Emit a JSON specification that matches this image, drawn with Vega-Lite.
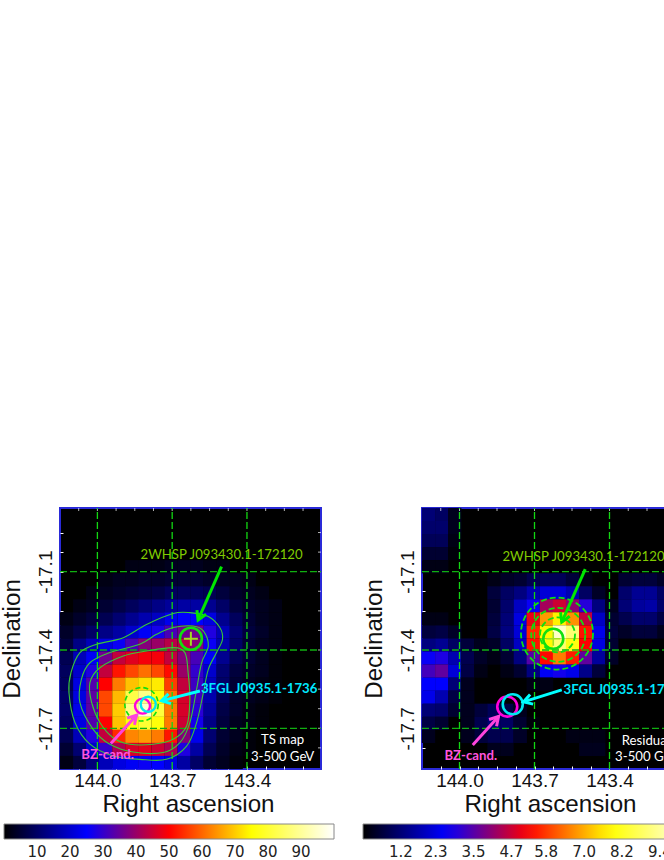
{"$schema":"https://vega.github.io/schema/vega-lite/v6.json","padding":{"left":-1,"top":506,"right":0,"bottom":0},"background":"white","bounds":"flush","spacing":101,
"config":{"view":{"stroke":"#2a2ad8","strokeWidth":2,"fill":"#000000"},"axis":{"grid":false,"domain":false,"tickColor":"#ffffff","tickSize":-3,"labelFont":"Liberation Sans","labelFontSize":19,"labelColor":"#111111","titleFont":"Liberation Sans","titleFontSize":24.2,"titleFontWeight":"normal","titleColor":"#111111"},"legend":{"labelFont":"DejaVu Sans","labelFontSize":15,"labelColor":"#222222","gradientStrokeColor":"#888888","gradientStrokeWidth":1}},
"resolve":{"scale":{"fill":"independent","stroke":"independent"}},
"datasets":{
"ts":[
{"ra":143.862,"dec":-17.081,"v":2},{"ra":143.81,"dec":-17.081,"v":2},{"ra":143.757,"dec":-17.081,"v":2},{"ra":143.705,"dec":-17.081,"v":3},{"ra":143.652,"dec":-17.081,"v":3},{"ra":143.6,"dec":-17.081,"v":3},{"ra":143.548,"dec":-17.081,"v":2},{"ra":143.495,"dec":-17.081,"v":2},
{"ra":143.967,"dec":-17.131,"v":2},{"ra":143.914,"dec":-17.131,"v":3},{"ra":143.862,"dec":-17.131,"v":3},{"ra":143.81,"dec":-17.131,"v":4},{"ra":143.757,"dec":-17.131,"v":4},{"ra":143.705,"dec":-17.131,"v":5},{"ra":143.652,"dec":-17.131,"v":5},{"ra":143.6,"dec":-17.131,"v":5},{"ra":143.548,"dec":-17.131,"v":4},{"ra":143.495,"dec":-17.131,"v":3},{"ra":143.443,"dec":-17.131,"v":3},{"ra":143.391,"dec":-17.131,"v":2},
{"ra":144.019,"dec":-17.181,"v":2},{"ra":143.967,"dec":-17.181,"v":3},{"ra":143.914,"dec":-17.181,"v":4},{"ra":143.862,"dec":-17.181,"v":5},{"ra":143.81,"dec":-17.181,"v":6},{"ra":143.757,"dec":-17.181,"v":7},{"ra":143.705,"dec":-17.181,"v":9},{"ra":143.652,"dec":-17.181,"v":9},{"ra":143.6,"dec":-17.181,"v":9},{"ra":143.548,"dec":-17.181,"v":8},{"ra":143.495,"dec":-17.181,"v":6},{"ra":143.443,"dec":-17.181,"v":4},{"ra":143.391,"dec":-17.181,"v":3},{"ra":143.338,"dec":-17.181,"v":2},
{"ra":144.071,"dec":-17.231,"v":2},{"ra":144.019,"dec":-17.231,"v":3},{"ra":143.967,"dec":-17.231,"v":5},{"ra":143.914,"dec":-17.231,"v":7},{"ra":143.862,"dec":-17.231,"v":9},{"ra":143.81,"dec":-17.231,"v":11},{"ra":143.757,"dec":-17.231,"v":13},{"ra":143.705,"dec":-17.231,"v":15},{"ra":143.652,"dec":-17.231,"v":16},{"ra":143.6,"dec":-17.231,"v":16},{"ra":143.548,"dec":-17.231,"v":14},{"ra":143.495,"dec":-17.231,"v":10},{"ra":143.443,"dec":-17.231,"v":6},{"ra":143.391,"dec":-17.231,"v":4},{"ra":143.338,"dec":-17.231,"v":3},{"ra":143.286,"dec":-17.231,"v":2},
{"ra":144.124,"dec":-17.281,"v":2},{"ra":144.071,"dec":-17.281,"v":4},{"ra":144.019,"dec":-17.281,"v":6},{"ra":143.967,"dec":-17.281,"v":8},{"ra":143.914,"dec":-17.281,"v":11},{"ra":143.862,"dec":-17.281,"v":14},{"ra":143.81,"dec":-17.281,"v":17},{"ra":143.757,"dec":-17.281,"v":19},{"ra":143.705,"dec":-17.281,"v":23},{"ra":143.652,"dec":-17.281,"v":25},{"ra":143.6,"dec":-17.281,"v":25},{"ra":143.548,"dec":-17.281,"v":22},{"ra":143.495,"dec":-17.281,"v":14},{"ra":143.443,"dec":-17.281,"v":9},{"ra":143.391,"dec":-17.281,"v":5},{"ra":143.338,"dec":-17.281,"v":3},{"ra":143.286,"dec":-17.281,"v":2},
{"ra":144.124,"dec":-17.331,"v":4},{"ra":144.071,"dec":-17.331,"v":7},{"ra":144.019,"dec":-17.331,"v":10},{"ra":143.967,"dec":-17.331,"v":13},{"ra":143.914,"dec":-17.331,"v":16},{"ra":143.862,"dec":-17.331,"v":20},{"ra":143.81,"dec":-17.331,"v":24},{"ra":143.757,"dec":-17.331,"v":27},{"ra":143.705,"dec":-17.331,"v":32},{"ra":143.652,"dec":-17.331,"v":36},{"ra":143.6,"dec":-17.331,"v":36},{"ra":143.548,"dec":-17.331,"v":28},{"ra":143.495,"dec":-17.331,"v":18},{"ra":143.443,"dec":-17.331,"v":11},{"ra":143.391,"dec":-17.331,"v":6},{"ra":143.338,"dec":-17.331,"v":4},{"ra":143.286,"dec":-17.331,"v":2},
{"ra":144.124,"dec":-17.381,"v":6},{"ra":144.071,"dec":-17.381,"v":13},{"ra":144.019,"dec":-17.381,"v":18},{"ra":143.967,"dec":-17.381,"v":22},{"ra":143.914,"dec":-17.381,"v":26},{"ra":143.862,"dec":-17.381,"v":32},{"ra":143.81,"dec":-17.381,"v":38},{"ra":143.757,"dec":-17.381,"v":40},{"ra":143.705,"dec":-17.381,"v":43},{"ra":143.652,"dec":-17.381,"v":43},{"ra":143.6,"dec":-17.381,"v":38},{"ra":143.548,"dec":-17.381,"v":26},{"ra":143.495,"dec":-17.381,"v":17},{"ra":143.443,"dec":-17.381,"v":10},{"ra":143.391,"dec":-17.381,"v":5},{"ra":143.338,"dec":-17.381,"v":3},{"ra":143.286,"dec":-17.381,"v":2},
{"ra":144.124,"dec":-17.431,"v":8},{"ra":144.071,"dec":-17.431,"v":18},{"ra":144.019,"dec":-17.431,"v":24},{"ra":143.967,"dec":-17.431,"v":36},{"ra":143.914,"dec":-17.431,"v":44},{"ra":143.862,"dec":-17.431,"v":47},{"ra":143.81,"dec":-17.431,"v":49},{"ra":143.757,"dec":-17.431,"v":49},{"ra":143.705,"dec":-17.431,"v":44},{"ra":143.652,"dec":-17.431,"v":38},{"ra":143.6,"dec":-17.431,"v":32},{"ra":143.548,"dec":-17.431,"v":24},{"ra":143.495,"dec":-17.431,"v":14},{"ra":143.443,"dec":-17.431,"v":8},{"ra":143.391,"dec":-17.431,"v":5},{"ra":143.338,"dec":-17.431,"v":3},{"ra":143.286,"dec":-17.431,"v":1},
{"ra":144.124,"dec":-17.481,"v":9},{"ra":144.071,"dec":-17.481,"v":20},{"ra":144.019,"dec":-17.481,"v":28},{"ra":143.967,"dec":-17.481,"v":44},{"ra":143.914,"dec":-17.481,"v":52},{"ra":143.862,"dec":-17.481,"v":57},{"ra":143.81,"dec":-17.481,"v":61},{"ra":143.757,"dec":-17.481,"v":57},{"ra":143.705,"dec":-17.481,"v":51},{"ra":143.652,"dec":-17.481,"v":40},{"ra":143.6,"dec":-17.481,"v":30},{"ra":143.548,"dec":-17.481,"v":20},{"ra":143.495,"dec":-17.481,"v":11},{"ra":143.443,"dec":-17.481,"v":6},{"ra":143.391,"dec":-17.481,"v":4},{"ra":143.338,"dec":-17.481,"v":3},{"ra":143.286,"dec":-17.481,"v":1},
{"ra":144.124,"dec":-17.531,"v":9},{"ra":144.071,"dec":-17.531,"v":22},{"ra":144.019,"dec":-17.531,"v":33},{"ra":143.967,"dec":-17.531,"v":50},{"ra":143.914,"dec":-17.531,"v":62},{"ra":143.862,"dec":-17.531,"v":69},{"ra":143.81,"dec":-17.531,"v":72},{"ra":143.757,"dec":-17.531,"v":73},{"ra":143.705,"dec":-17.531,"v":56},{"ra":143.652,"dec":-17.531,"v":44},{"ra":143.6,"dec":-17.531,"v":31},{"ra":143.548,"dec":-17.531,"v":18},{"ra":143.495,"dec":-17.531,"v":10},{"ra":143.443,"dec":-17.531,"v":5},{"ra":143.391,"dec":-17.531,"v":3},{"ra":143.338,"dec":-17.531,"v":2},{"ra":143.286,"dec":-17.531,"v":1},
{"ra":144.124,"dec":-17.581,"v":10},{"ra":144.071,"dec":-17.581,"v":22},{"ra":144.019,"dec":-17.581,"v":34},{"ra":143.967,"dec":-17.581,"v":57},{"ra":143.914,"dec":-17.581,"v":68},{"ra":143.862,"dec":-17.581,"v":82},{"ra":143.81,"dec":-17.581,"v":88},{"ra":143.757,"dec":-17.581,"v":76},{"ra":143.705,"dec":-17.581,"v":61},{"ra":143.652,"dec":-17.581,"v":46},{"ra":143.6,"dec":-17.581,"v":31},{"ra":143.548,"dec":-17.581,"v":17},{"ra":143.495,"dec":-17.581,"v":8},{"ra":143.443,"dec":-17.581,"v":4},{"ra":143.391,"dec":-17.581,"v":3},{"ra":143.338,"dec":-17.581,"v":2},{"ra":143.286,"dec":-17.581,"v":1},
{"ra":144.124,"dec":-17.631,"v":10},{"ra":144.071,"dec":-17.631,"v":23},{"ra":144.019,"dec":-17.631,"v":34},{"ra":143.967,"dec":-17.631,"v":57},{"ra":143.914,"dec":-17.631,"v":70},{"ra":143.862,"dec":-17.631,"v":88},{"ra":143.81,"dec":-17.631,"v":95},{"ra":143.757,"dec":-17.631,"v":81},{"ra":143.705,"dec":-17.631,"v":62},{"ra":143.652,"dec":-17.631,"v":46},{"ra":143.6,"dec":-17.631,"v":29},{"ra":143.548,"dec":-17.631,"v":15},{"ra":143.495,"dec":-17.631,"v":7},{"ra":143.443,"dec":-17.631,"v":4},{"ra":143.391,"dec":-17.631,"v":2},{"ra":143.338,"dec":-17.631,"v":1},
{"ra":144.124,"dec":-17.681,"v":9},{"ra":144.071,"dec":-17.681,"v":22},{"ra":144.019,"dec":-17.681,"v":33},{"ra":143.967,"dec":-17.681,"v":50},{"ra":143.914,"dec":-17.681,"v":69},{"ra":143.862,"dec":-17.681,"v":76},{"ra":143.81,"dec":-17.681,"v":80},{"ra":143.757,"dec":-17.681,"v":76},{"ra":143.705,"dec":-17.681,"v":62},{"ra":143.652,"dec":-17.681,"v":45},{"ra":143.6,"dec":-17.681,"v":27},{"ra":143.548,"dec":-17.681,"v":13},{"ra":143.495,"dec":-17.681,"v":6},{"ra":143.443,"dec":-17.681,"v":3},{"ra":143.391,"dec":-17.681,"v":2},{"ra":143.338,"dec":-17.681,"v":1},
{"ra":144.124,"dec":-17.731,"v":8},{"ra":144.071,"dec":-17.731,"v":18},{"ra":144.019,"dec":-17.731,"v":28},{"ra":143.967,"dec":-17.731,"v":44},{"ra":143.914,"dec":-17.731,"v":54},{"ra":143.862,"dec":-17.731,"v":63},{"ra":143.81,"dec":-17.731,"v":65},{"ra":143.757,"dec":-17.731,"v":62},{"ra":143.705,"dec":-17.731,"v":52},{"ra":143.652,"dec":-17.731,"v":38},{"ra":143.6,"dec":-17.731,"v":23},{"ra":143.548,"dec":-17.731,"v":11},{"ra":143.495,"dec":-17.731,"v":5},{"ra":143.443,"dec":-17.731,"v":3},{"ra":143.391,"dec":-17.731,"v":1},
{"ra":144.124,"dec":-17.781,"v":5},{"ra":144.071,"dec":-17.781,"v":11},{"ra":144.019,"dec":-17.781,"v":20},{"ra":143.967,"dec":-17.781,"v":30},{"ra":143.914,"dec":-17.781,"v":42},{"ra":143.862,"dec":-17.781,"v":46},{"ra":143.81,"dec":-17.781,"v":47},{"ra":143.757,"dec":-17.781,"v":45},{"ra":143.705,"dec":-17.781,"v":42},{"ra":143.652,"dec":-17.781,"v":28},{"ra":143.6,"dec":-17.781,"v":16},{"ra":143.548,"dec":-17.781,"v":8},{"ra":143.495,"dec":-17.781,"v":4},{"ra":143.443,"dec":-17.781,"v":2},{"ra":143.391,"dec":-17.781,"v":1},
{"ra":144.124,"dec":-17.831,"v":2},{"ra":144.071,"dec":-17.831,"v":6},{"ra":144.019,"dec":-17.831,"v":12},{"ra":143.967,"dec":-17.831,"v":18},{"ra":143.914,"dec":-17.831,"v":22},{"ra":143.862,"dec":-17.831,"v":24},{"ra":143.81,"dec":-17.831,"v":26},{"ra":143.757,"dec":-17.831,"v":25},{"ra":143.705,"dec":-17.831,"v":22},{"ra":143.652,"dec":-17.831,"v":16},{"ra":143.6,"dec":-17.831,"v":10},{"ra":143.548,"dec":-17.831,"v":5},{"ra":143.495,"dec":-17.831,"v":3},{"ra":143.443,"dec":-17.831,"v":1}
],
"res":[
{"ra":144.124,"dec":-16.881,"v":1.2},{"ra":144.071,"dec":-16.881,"v":1.0},{"ra":144.019,"dec":-16.881,"v":0.3},
{"ra":144.124,"dec":-16.931,"v":1.1},{"ra":144.071,"dec":-16.931,"v":1.1},{"ra":144.019,"dec":-16.931,"v":0.3},
{"ra":144.124,"dec":-16.981,"v":0.9},{"ra":144.071,"dec":-16.981,"v":0.9},{"ra":144.019,"dec":-16.981,"v":0.2},
{"ra":144.124,"dec":-17.031,"v":0.5},{"ra":144.071,"dec":-17.031,"v":0.5},{"ra":144.019,"dec":-17.031,"v":0.1},
{"ra":144.124,"dec":-17.081,"v":0.2},{"ra":144.071,"dec":-17.081,"v":0.2},
{"ra":143.862,"dec":-17.131,"v":0.2},{"ra":143.81,"dec":-17.131,"v":0.4},{"ra":143.757,"dec":-17.131,"v":0.5},{"ra":143.705,"dec":-17.131,"v":0.8},{"ra":143.652,"dec":-17.131,"v":0.9},{"ra":143.6,"dec":-17.131,"v":0.9},{"ra":143.548,"dec":-17.131,"v":0.6},{"ra":143.495,"dec":-17.131,"v":0.2},{"ra":143.338,"dec":-17.131,"v":0.5},{"ra":143.286,"dec":-17.131,"v":0.6},{"ra":143.234,"dec":-17.131,"v":0.6},{"ra":143.181,"dec":-17.131,"v":0.4},{"ra":143.129,"dec":-17.131,"v":0.2},
{"ra":143.862,"dec":-17.181,"v":0.6},{"ra":143.81,"dec":-17.181,"v":1.0},{"ra":143.757,"dec":-17.181,"v":1.3},{"ra":143.705,"dec":-17.181,"v":1.8},{"ra":143.652,"dec":-17.181,"v":2.2},{"ra":143.6,"dec":-17.181,"v":2.2},{"ra":143.548,"dec":-17.181,"v":1.8},{"ra":143.495,"dec":-17.181,"v":1.0},{"ra":143.443,"dec":-17.181,"v":0.4},{"ra":143.338,"dec":-17.181,"v":1.1},{"ra":143.286,"dec":-17.181,"v":1.5},{"ra":143.234,"dec":-17.181,"v":1.5},{"ra":143.181,"dec":-17.181,"v":1.0},{"ra":143.129,"dec":-17.181,"v":0.5},
{"ra":143.862,"dec":-17.231,"v":0.5},{"ra":143.81,"dec":-17.231,"v":1.1},{"ra":143.757,"dec":-17.231,"v":2.0},{"ra":143.705,"dec":-17.231,"v":2.7},{"ra":143.652,"dec":-17.231,"v":4.3},{"ra":143.6,"dec":-17.231,"v":4.7},{"ra":143.548,"dec":-17.231,"v":4.1},{"ra":143.495,"dec":-17.231,"v":3.0},{"ra":143.443,"dec":-17.231,"v":1.3},{"ra":143.391,"dec":-17.231,"v":0.3},{"ra":143.338,"dec":-17.231,"v":1.2},{"ra":143.286,"dec":-17.231,"v":1.6},{"ra":143.234,"dec":-17.231,"v":1.7},{"ra":143.181,"dec":-17.231,"v":1.1},{"ra":143.129,"dec":-17.231,"v":0.5},
{"ra":144.124,"dec":-17.281,"v":0.2},{"ra":144.071,"dec":-17.281,"v":0.2},{"ra":143.862,"dec":-17.281,"v":0.6},{"ra":143.81,"dec":-17.281,"v":1.2},{"ra":143.757,"dec":-17.281,"v":2.3},{"ra":143.705,"dec":-17.281,"v":5.0},{"ra":143.652,"dec":-17.281,"v":6.8},{"ra":143.6,"dec":-17.281,"v":7.7},{"ra":143.548,"dec":-17.281,"v":6.7},{"ra":143.495,"dec":-17.281,"v":4.6},{"ra":143.443,"dec":-17.281,"v":2.0},{"ra":143.391,"dec":-17.281,"v":0.5},{"ra":143.338,"dec":-17.281,"v":0.8},{"ra":143.286,"dec":-17.281,"v":1.1},{"ra":143.234,"dec":-17.281,"v":1.1},{"ra":143.181,"dec":-17.281,"v":0.7},{"ra":143.129,"dec":-17.281,"v":0.3},
{"ra":144.124,"dec":-17.331,"v":0.6},{"ra":144.071,"dec":-17.331,"v":0.7},{"ra":144.019,"dec":-17.331,"v":0.4},{"ra":143.862,"dec":-17.331,"v":0.7},{"ra":143.81,"dec":-17.331,"v":1.3},{"ra":143.757,"dec":-17.331,"v":2.2},{"ra":143.705,"dec":-17.331,"v":5.6},{"ra":143.652,"dec":-17.331,"v":7.8},{"ra":143.6,"dec":-17.331,"v":9.9},{"ra":143.548,"dec":-17.331,"v":9.0},{"ra":143.495,"dec":-17.331,"v":5.4},{"ra":143.443,"dec":-17.331,"v":2.4},{"ra":143.391,"dec":-17.331,"v":0.6},{"ra":143.338,"dec":-17.331,"v":0.4},{"ra":143.286,"dec":-17.331,"v":0.6},{"ra":143.234,"dec":-17.331,"v":0.6},{"ra":143.181,"dec":-17.331,"v":0.3},
{"ra":144.124,"dec":-17.381,"v":1.3},{"ra":144.071,"dec":-17.381,"v":1.5},{"ra":144.019,"dec":-17.381,"v":1.0},{"ra":143.967,"dec":-17.381,"v":0.6},{"ra":143.914,"dec":-17.381,"v":0.3},{"ra":143.862,"dec":-17.381,"v":0.4},{"ra":143.81,"dec":-17.381,"v":1.0},{"ra":143.757,"dec":-17.381,"v":2.0},{"ra":143.705,"dec":-17.381,"v":5.4},{"ra":143.652,"dec":-17.381,"v":7.8},{"ra":143.6,"dec":-17.381,"v":9.0},{"ra":143.548,"dec":-17.381,"v":8.0},{"ra":143.495,"dec":-17.381,"v":5.2},{"ra":143.443,"dec":-17.381,"v":2.3},{"ra":143.391,"dec":-17.381,"v":0.5},
{"ra":144.124,"dec":-17.431,"v":2.7},{"ra":144.071,"dec":-17.431,"v":2.9},{"ra":144.019,"dec":-17.431,"v":1.8},{"ra":143.967,"dec":-17.431,"v":0.8},{"ra":143.914,"dec":-17.431,"v":0.4},{"ra":143.862,"dec":-17.431,"v":0.2},{"ra":143.81,"dec":-17.431,"v":0.5},{"ra":143.757,"dec":-17.431,"v":1.3},{"ra":143.705,"dec":-17.431,"v":3.5},{"ra":143.652,"dec":-17.431,"v":5.3},{"ra":143.6,"dec":-17.431,"v":6.5},{"ra":143.548,"dec":-17.431,"v":5.5},{"ra":143.495,"dec":-17.431,"v":3.6},{"ra":143.443,"dec":-17.431,"v":1.6},{"ra":143.391,"dec":-17.431,"v":0.4},
{"ra":144.124,"dec":-17.481,"v":3.3},{"ra":144.071,"dec":-17.481,"v":3.6},{"ra":144.019,"dec":-17.481,"v":2.2},{"ra":143.967,"dec":-17.481,"v":0.7},{"ra":143.914,"dec":-17.481,"v":0.2},{"ra":143.81,"dec":-17.481,"v":0.2},{"ra":143.757,"dec":-17.481,"v":0.5},{"ra":143.705,"dec":-17.481,"v":1.3},{"ra":143.652,"dec":-17.481,"v":2.5},{"ra":143.6,"dec":-17.481,"v":2.8},{"ra":143.548,"dec":-17.481,"v":2.4},{"ra":143.495,"dec":-17.481,"v":1.4},{"ra":143.443,"dec":-17.481,"v":0.6},
{"ra":144.124,"dec":-17.531,"v":2.6},{"ra":144.071,"dec":-17.531,"v":2.6},{"ra":144.019,"dec":-17.531,"v":1.2},{"ra":143.967,"dec":-17.531,"v":0.3},{"ra":143.705,"dec":-17.531,"v":0.2},{"ra":143.652,"dec":-17.531,"v":0.2},
{"ra":144.124,"dec":-17.581,"v":2.4},{"ra":144.071,"dec":-17.581,"v":1.8},{"ra":144.019,"dec":-17.581,"v":0.7},{"ra":143.967,"dec":-17.581,"v":0.3},
{"ra":144.124,"dec":-17.631,"v":1.2},{"ra":144.071,"dec":-17.631,"v":1.1},{"ra":144.019,"dec":-17.631,"v":0.5},{"ra":143.967,"dec":-17.631,"v":0.3},{"ra":143.914,"dec":-17.631,"v":0.6},{"ra":143.862,"dec":-17.631,"v":0.9},{"ra":143.81,"dec":-17.631,"v":0.7},{"ra":143.757,"dec":-17.631,"v":0.3},
{"ra":144.124,"dec":-17.681,"v":0.7},{"ra":144.071,"dec":-17.681,"v":0.5},{"ra":143.967,"dec":-17.681,"v":0.3},{"ra":143.914,"dec":-17.681,"v":0.8},{"ra":143.862,"dec":-17.681,"v":1.2},{"ra":143.81,"dec":-17.681,"v":1.0},{"ra":143.757,"dec":-17.681,"v":0.5},{"ra":143.705,"dec":-17.681,"v":0.1},
{"ra":144.124,"dec":-17.731,"v":0.3},{"ra":143.967,"dec":-17.731,"v":0.3},{"ra":143.914,"dec":-17.731,"v":0.6},{"ra":143.862,"dec":-17.731,"v":0.8},{"ra":143.81,"dec":-17.731,"v":0.8},{"ra":143.757,"dec":-17.731,"v":0.4},{"ra":143.548,"dec":-17.731,"v":0.2},{"ra":143.495,"dec":-17.731,"v":0.2},{"ra":143.443,"dec":-17.731,"v":0.2},
{"ra":143.862,"dec":-17.781,"v":0.3},{"ra":143.81,"dec":-17.781,"v":0.3},{"ra":143.495,"dec":-17.781,"v":0.3},{"ra":143.443,"dec":-17.781,"v":0.3}
],
"contours":[
{"level":"a","k":1,"ra":143.696,"dec":-17.26},{"level":"a","k":2,"ra":143.629,"dec":-17.257},{"level":"a","k":3,"ra":143.555,"dec":-17.272},{"level":"a","k":4,"ra":143.509,"dec":-17.314},{"level":"a","k":5,"ra":143.498,"dec":-17.359},{"level":"a","k":6,"ra":143.522,"dec":-17.41},{"level":"a","k":7,"ra":143.555,"dec":-17.474},{"level":"a","k":8,"ra":143.575,"dec":-17.564},{"level":"a","k":9,"ra":143.602,"dec":-17.678},{"level":"a","k":10,"ra":143.642,"dec":-17.768},{"level":"a","k":11,"ra":143.723,"dec":-17.819},{"level":"a","k":12,"ra":143.83,"dec":-17.819},{"level":"a","k":13,"ra":143.937,"dec":-17.806},{"level":"a","k":14,"ra":144.03,"dec":-17.761},{"level":"a","k":15,"ra":144.09,"dec":-17.678},{"level":"a","k":16,"ra":144.114,"dec":-17.564},{"level":"a","k":17,"ra":144.106,"dec":-17.487},{"level":"a","k":18,"ra":144.07,"dec":-17.41},{"level":"a","k":19,"ra":144.003,"dec":-17.378},{"level":"a","k":20,"ra":143.896,"dec":-17.353},{"level":"a","k":21,"ra":143.803,"dec":-17.302},
{"level":"b","k":1,"ra":143.696,"dec":-17.314},{"level":"b","k":2,"ra":143.616,"dec":-17.308},{"level":"b","k":3,"ra":143.575,"dec":-17.327},{"level":"b","k":4,"ra":143.555,"dec":-17.385},{"level":"b","k":5,"ra":143.582,"dec":-17.449},{"level":"b","k":6,"ra":143.602,"dec":-17.551},{"level":"b","k":7,"ra":143.629,"dec":-17.678},{"level":"b","k":8,"ra":143.669,"dec":-17.755},{"level":"b","k":9,"ra":143.736,"dec":-17.793},{"level":"b","k":10,"ra":143.856,"dec":-17.791},{"level":"b","k":11,"ra":143.95,"dec":-17.761},{"level":"b","k":12,"ra":144.017,"dec":-17.704},{"level":"b","k":13,"ra":144.07,"dec":-17.602},{"level":"b","k":14,"ra":144.064,"dec":-17.512},{"level":"b","k":15,"ra":144.03,"dec":-17.449},{"level":"b","k":16,"ra":143.95,"dec":-17.41},{"level":"b","k":17,"ra":143.83,"dec":-17.378},{"level":"b","k":18,"ra":143.763,"dec":-17.34},
{"level":"c","k":1,"ra":143.803,"dec":-17.404},{"level":"c","k":2,"ra":143.696,"dec":-17.391},{"level":"c","k":3,"ra":143.649,"dec":-17.41},{"level":"c","k":4,"ra":143.636,"dec":-17.487},{"level":"c","k":5,"ra":143.629,"dec":-17.589},{"level":"c","k":6,"ra":143.642,"dec":-17.691},{"level":"c","k":7,"ra":143.696,"dec":-17.742},{"level":"c","k":8,"ra":143.776,"dec":-17.761},{"level":"c","k":9,"ra":143.87,"dec":-17.761},{"level":"c","k":10,"ra":143.937,"dec":-17.736},{"level":"c","k":11,"ra":143.99,"dec":-17.678},{"level":"c","k":12,"ra":144.023,"dec":-17.602},{"level":"c","k":13,"ra":144.03,"dec":-17.525},{"level":"c","k":14,"ra":143.99,"dec":-17.468},{"level":"c","k":15,"ra":143.896,"dec":-17.423}
],
"vgrid":[{"ra":144.0,"dec":-17.856,"dec2":-16.856},{"ra":143.7,"dec":-17.856,"dec2":-16.856},{"ra":143.4,"dec":-17.856,"dec2":-16.856}],
"hgrid":[{"ra":144.15,"ra2":143.103,"dec":-17.1},{"ra":144.15,"ra2":143.103,"dec":-17.4},{"ra":144.15,"ra2":143.103,"dec":-17.7}],
"topticks":[{"ra":144.075,"dec":-16.856},{"ra":144.0,"dec":-16.856},{"ra":143.925,"dec":-16.856},{"ra":143.85,"dec":-16.856},{"ra":143.775,"dec":-16.856},{"ra":143.7,"dec":-16.856},{"ra":143.625,"dec":-16.856},{"ra":143.55,"dec":-16.856},{"ra":143.475,"dec":-16.856},{"ra":143.4,"dec":-16.856},{"ra":143.325,"dec":-16.856},{"ra":143.25,"dec":-16.856},{"ra":143.175,"dec":-16.856}],
"rightticks":[{"ra":143.103,"dec":-16.95},{"ra":143.103,"dec":-17.025},{"ra":143.103,"dec":-17.1},{"ra":143.103,"dec":-17.175},{"ra":143.103,"dec":-17.25},{"ra":143.103,"dec":-17.325},{"ra":143.103,"dec":-17.4},{"ra":143.103,"dec":-17.475},{"ra":143.103,"dec":-17.55},{"ra":143.103,"dec":-17.625},{"ra":143.103,"dec":-17.7},{"ra":143.103,"dec":-17.775}],
"arrowsL":[{"name":"w","ra":143.502,"dec":-17.081,"ra2":143.596,"dec2":-17.285},{"name":"f","ra":143.589,"dec":-17.557,"ra2":143.743,"dec2":-17.595},{"name":"b","ra":143.946,"dec":-17.758,"ra2":143.843,"dec2":-17.65}],
"headsL":[{"name":"w","ra":143.596,"dec":-17.285,"angle":203.6},{"name":"f","ra":143.743,"dec":-17.595,"angle":255.4},{"name":"b","ra":143.843,"dec":-17.65,"angle":42.5}],
"arrowsR":[{"name":"w","ra":143.497,"dec":-17.09,"ra2":143.591,"dec2":-17.293},{"name":"f","ra":143.591,"dec":-17.553,"ra2":143.744,"dec2":-17.599},{"name":"b","ra":143.947,"dec":-17.764,"ra2":143.844,"dec2":-17.655}],
"headsR":[{"name":"w","ra":143.591,"dec":-17.293,"angle":203.6},{"name":"f","ra":143.744,"dec":-17.599,"angle":252.6},{"name":"b","ra":143.844,"dec":-17.655,"angle":41.8}]
},
"hconcat":[
{"width":261,"height":261,
"encoding":{
"x":{"field":"ra","type":"quantitative","scale":{"domain":[144.15,143.103],"nice":false,"zero":false},"axis":{"title":"Right ascension","titleX":128,"titleY":23,"values":[144.075,144.0,143.925,143.85,143.775,143.7,143.625,143.55,143.475,143.4,143.325,143.25,143.175],"labelExpr":"datum.value==144?'144.0':datum.value==143.7?'143.7':datum.value==143.4?'143.4':''","labelFlush":false,"labelOverlap":false,"labelPadding":5}},
"y":{"field":"dec","type":"quantitative","scale":{"domain":[-17.856,-16.856],"nice":false,"zero":false},"axis":{"title":"Declination","titleX":-36,"values":[-16.95,-17.025,-17.1,-17.175,-17.25,-17.325,-17.4,-17.475,-17.55,-17.625,-17.7,-17.775],"labelExpr":"datum.value==-17.1?'-17.1':datum.value==-17.4?'-17.4':datum.value==-17.7?'-17.7':''","labelAngle":-90,"labelAlign":"center","labelBaseline":"bottom","labelOverlap":false,"labelFlush":false,"labelPadding":8}}
},
"layer":[
{"data":{"name":"ts"},"mark":{"type":"rect","width":13.2,"height":13.2},"encoding":{"fill":{"field":"v","type":"quantitative","scale":{"domain":[0,25,50,75,100],"range":["#000000","#0000ff","#ff0000","#ffff00","#ffffff"],"interpolate":"rgb"},"legend":{"orient":"none","direction":"horizontal","legendX":-56,"legendY":316,"gradientLength":330,"gradientThickness":15,"title":null,"values":[10,20,30,40,50,60,70,80,90],"labelOverlap":false,"labelOffset":6}}}},
{"data":{"name":"topticks"},"mark":{"type":"tick","orient":"vertical","size":6,"thickness":1,"color":"#ffffff","clip":true}},
{"data":{"name":"rightticks"},"mark":{"type":"tick","orient":"horizontal","size":6,"thickness":1,"color":"#ffffff","clip":true}},
{"data":{"name":"vgrid"},"mark":{"type":"rule","color":"#12d812","strokeWidth":1.3,"strokeDash":[7,3]},"encoding":{"y2":{"field":"dec2"}}},
{"data":{"name":"hgrid"},"mark":{"type":"rule","color":"#10b010","strokeWidth":1.3,"strokeDash":[7,3]},"encoding":{"x2":{"field":"ra2"}}},
{"data":{"name":"contours"},"mark":{"type":"line","interpolate":"cardinal-closed","color":"#38c838","strokeWidth":1.1},"encoding":{"detail":{"field":"level"},"order":{"field":"k"}}},
{"data":{"values":[{"ra":143.625,"dec":-17.357}]},"mark":{"type":"point","shape":"circle","size":484,"filled":false,"color":"#10e010","strokeWidth":2.6,"opacity":1}},
{"data":{"values":[{"ra":143.625,"dec":-17.357}]},"mark":{"type":"point","shape":"M-1,0L1,0M0,-1L0,1","size":196,"filled":false,"color":"#a0e020","strokeWidth":2,"opacity":1}},
{"data":{"values":[{"ra":143.823,"dec":-17.608}]},"mark":{"type":"point","shape":"circle","size":1115,"filled":false,"color":"#10e010","strokeWidth":1.6,"strokeDash":[5,3],"opacity":1}},
{"data":{"values":[{"ra":143.819,"dec":-17.615}]},"mark":{"type":"point","shape":"circle","size":225,"filled":false,"color":"#ff00dd","strokeWidth":2.4,"opacity":1}},
{"data":{"values":[{"ra":143.796,"dec":-17.608}]},"mark":{"type":"point","shape":"circle","size":225,"filled":false,"color":"#00e8f0","strokeWidth":2.4,"opacity":1}},
{"data":{"name":"arrowsL"},"mark":{"type":"rule","strokeWidth":3},"encoding":{"x2":{"field":"ra2"},"y2":{"field":"dec2"},"stroke":{"field":"name","type":"nominal","scale":{"domain":["w","f","b"],"range":["#00e600","#00ffff","#ff44dd"]},"legend":null}}},
{"data":{"name":"headsL"},"mark":{"type":"point","shape":"M-1,1.7L0,0L1,1.7","size":100,"filled":false,"strokeWidth":3,"opacity":1},"encoding":{"angle":{"field":"angle","type":"quantitative","scale":null},"stroke":{"field":"name","type":"nominal","legend":null}}},
{"data":{"values":[{"ra":143.502,"dec":-17.036,"t":"2WHSP J093430.1-172120"}]},"mark":{"type":"text","font":"Lato","fontSize":13.2,"color":"#80cc00"},"encoding":{"text":{"field":"t"}}},
{"data":{"values":[{"ra":143.351,"dec":-17.548,"t":"3FGL J0935.1-1736"}]},"mark":{"type":"text","font":"Lato","fontWeight":"bold","fontSize":13.2,"color":"#00e8ff"},"encoding":{"text":{"field":"t"}}},
{"data":{"values":[{"ra":143.959,"dec":-17.803,"t":"BZ-cand."}]},"mark":{"type":"text","font":"Lato","fontWeight":"bold","fontSize":13.2,"color":"#ff55dd"},"encoding":{"text":{"field":"t"}}},
{"data":{"values":[{"ra":143.257,"dec":-17.746,"t":"TS map"},{"ra":143.257,"dec":-17.81,"t":"3-500 GeV"}]},"mark":{"type":"text","font":"Lato","fontSize":13.2,"color":"#ffffff"},"encoding":{"text":{"field":"t"}}}
]},
{"width":262,"height":261,
"encoding":{
"x":{"field":"ra","type":"quantitative","scale":{"domain":[144.15,143.102],"nice":false,"zero":false},"axis":{"title":"Right ascension","titleX":128,"titleY":23,"values":[144.075,144.0,143.925,143.85,143.775,143.7,143.625,143.55,143.475,143.4,143.325,143.25,143.175],"labelExpr":"datum.value==144?'144.0':datum.value==143.7?'143.7':datum.value==143.4?'143.4':''","labelFlush":false,"labelOverlap":false,"labelPadding":5}},
"y":{"field":"dec","type":"quantitative","scale":{"domain":[-17.856,-16.856],"nice":false,"zero":false},"axis":{"title":"Declination","titleX":-36,"values":[-16.95,-17.025,-17.1,-17.175,-17.25,-17.325,-17.4,-17.475,-17.55,-17.625,-17.7,-17.775],"labelExpr":"datum.value==-17.1?'-17.1':datum.value==-17.4?'-17.4':datum.value==-17.7?'-17.7':''","labelAngle":-90,"labelAlign":"center","labelBaseline":"bottom","labelOverlap":false,"labelFlush":false,"labelPadding":8}}
},
"layer":[
{"data":{"name":"res"},"mark":{"type":"rect","width":13.3,"height":13.2},"encoding":{"fill":{"field":"v","type":"quantitative","scale":{"domain":[0,2.6125,5.225,7.8375,10.45],"range":["#000000","#0000ff","#ff0000","#ffff00","#ffffff"],"interpolate":"rgb"},"legend":{"orient":"none","direction":"horizontal","legendX":-59,"legendY":316,"gradientLength":330,"gradientThickness":15,"title":null,"values":[1.2,2.3,3.5,4.7,5.8,7.0,8.2,9.4],"format":".1f","labelOverlap":false,"labelOffset":6}}}},
{"data":{"name":"topticks"},"mark":{"type":"tick","orient":"vertical","size":6,"thickness":1,"color":"#ffffff","clip":true}},
{"data":{"name":"vgrid"},"mark":{"type":"rule","color":"#12d812","strokeWidth":1.3,"strokeDash":[7,3]},"encoding":{"y2":{"field":"dec2"}}},
{"data":{"name":"hgrid"},"mark":{"type":"rule","color":"#10b010","strokeWidth":1.3,"strokeDash":[7,3]},"encoding":{"x2":{"field":"ra2"}}},
{"data":{"values":[{"ra":143.61,"dec":-17.337}]},"mark":{"type":"point","shape":"circle","size":5184,"filled":false,"color":"#10e010","strokeWidth":1.8,"strokeDash":[6,3],"opacity":1}},
{"data":{"values":[{"ra":143.605,"dec":-17.342}]},"mark":{"type":"point","shape":"circle","size":2916,"filled":false,"color":"#10e010","strokeWidth":1.8,"strokeDash":[6,3],"opacity":1}},
{"data":{"values":[{"ra":143.608,"dec":-17.342}]},"mark":{"type":"point","shape":"circle","size":1225,"filled":false,"color":"#10e010","strokeWidth":1.8,"strokeDash":[6,3],"opacity":1}},
{"data":{"values":[{"ra":143.625,"dec":-17.357}]},"mark":{"type":"point","shape":"circle","size":400,"filled":false,"color":"#10e010","strokeWidth":2.6,"opacity":1}},
{"data":{"values":[{"ra":143.625,"dec":-17.357}]},"mark":{"type":"point","shape":"M-1,0L1,0M0,-1L0,1","size":196,"filled":false,"color":"#a0e020","strokeWidth":1.6,"opacity":1}},
{"data":{"values":[{"ra":143.809,"dec":-17.617}]},"mark":{"type":"point","shape":"circle","size":400,"filled":false,"color":"#ff00dd","strokeWidth":2.6,"opacity":1}},
{"data":{"values":[{"ra":143.787,"dec":-17.608}]},"mark":{"type":"point","shape":"circle","size":400,"filled":false,"color":"#00e8f0","strokeWidth":2.6,"opacity":1}},
{"data":{"name":"arrowsR"},"mark":{"type":"rule","strokeWidth":3},"encoding":{"x2":{"field":"ra2"},"y2":{"field":"dec2"},"stroke":{"field":"name","type":"nominal","scale":{"domain":["w","f","b"],"range":["#00e600","#00ffff","#ff44dd"]},"legend":null}}},
{"data":{"name":"headsR"},"mark":{"type":"point","shape":"M-1,1.7L0,0L1,1.7","size":100,"filled":false,"strokeWidth":3,"opacity":1},"encoding":{"angle":{"field":"angle","type":"quantitative","scale":null},"stroke":{"field":"name","type":"nominal","legend":null}}},
{"data":{"values":[{"ra":143.504,"dec":-17.044,"t":"2WHSP J093430.1-172120"}]},"mark":{"type":"text","font":"Lato","fontSize":13.2,"color":"#80cc00"},"encoding":{"text":{"field":"t"}}},
{"data":{"values":[{"ra":143.351,"dec":-17.554,"t":"3FGL J0935.1-1736"}]},"mark":{"type":"text","font":"Lato","fontWeight":"bold","fontSize":13.2,"color":"#00e8ff"},"encoding":{"text":{"field":"t"}}},
{"data":{"values":[{"ra":143.955,"dec":-17.807,"t":"BZ-cand."}]},"mark":{"type":"text","font":"Lato","fontWeight":"bold","fontSize":13.2,"color":"#ff55dd"},"encoding":{"text":{"field":"t"}}},
{"data":{"values":[{"ra":143.255,"dec":-17.748,"t":"Residual"},{"ra":143.251,"dec":-17.811,"t":"3-500 GeV"}]},"mark":{"type":"text","font":"Lato","fontSize":13.2,"color":"#ffffff"},"encoding":{"text":{"field":"t"}}}
]}
]}
